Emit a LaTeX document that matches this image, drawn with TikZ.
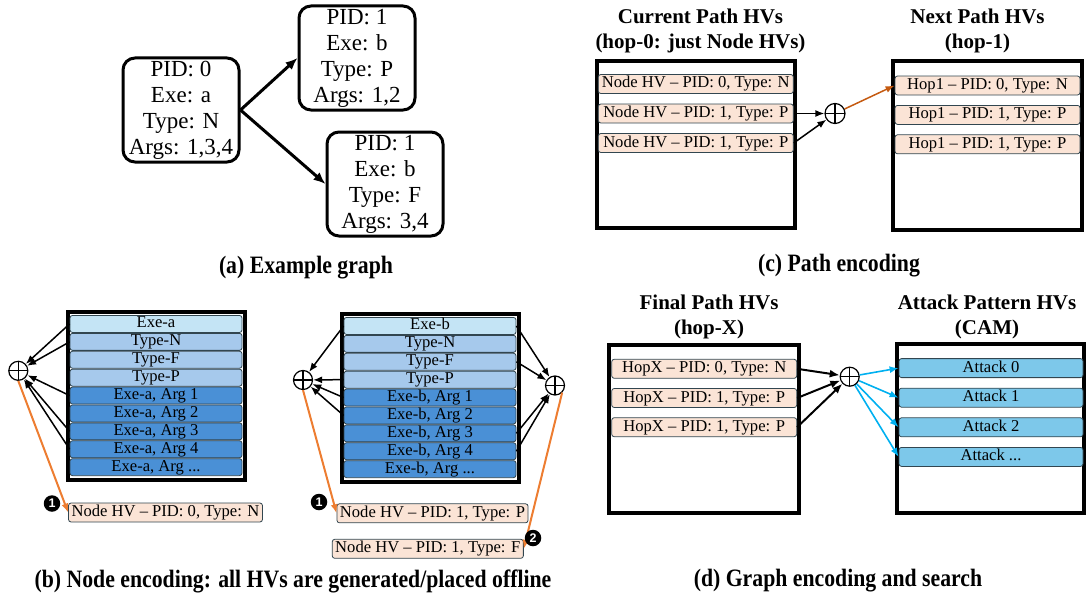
\documentclass[tikz,border=0pt]{standalone}
\usepackage{fontspec}
\setmainfont{Liberation Serif}
\newfontfamily\capfont[FakeStretch=0.87]{Liberation Serif}
\newfontfamily\badgefont{Liberation Sans}
\usetikzlibrary{arrows.meta,positioning,calc}
\definecolor{hdPeach}{RGB}{251,228,214}
\definecolor{hdRowLine}{RGB}{50,70,80}
\definecolor{hdExeBlue}{RGB}{196,228,245}
\definecolor{hdTypeBlue}{RGB}{166,201,236}
\definecolor{hdArgBlue}{RGB}{74,144,214}
\definecolor{hdAttackBlue}{RGB}{125,200,234}
\definecolor{hdOrange}{RGB}{237,125,49}
\definecolor{hdHopBrown}{RGB}{197,90,17}
\definecolor{hdCamBlue}{RGB}{0,176,240}

\begin{document}
\begin{tikzpicture}[
  x=1pt,y=-1pt,
  gnode/.style={
    draw,
    line width=3pt,
    rounded corners=12pt,
    minimum width=116pt,
    minimum height=104pt,
    inner sep=2pt,
    align=center,
    font=\fontsize{23}{26}\selectfont
  },
  bigbox/.style={draw,line width=4pt,inner sep=0pt},
  hvrow/.style={
    draw=hdRowLine,
    line width=0.8pt,
    rounded corners=2.5pt,
    inner sep=0pt,
    minimum height=19pt,
    text height=11.5pt,
    text depth=3.5pt,
    font=\fontsize{16.6}{19}\selectfont
  },
  tabrow/.style={hvrow,minimum width=172pt,minimum height=17pt},
  hvbox/.style={hvrow,fill=hdPeach,inner xsep=3pt},
  sumnode/.style={
    circle,draw,line width=1.2pt,minimum size=19pt,inner sep=0pt,
    path picture={\draw[line width=1.2pt]
      (path picture bounding box.north) -- (path picture bounding box.south)
      (path picture bounding box.west) -- (path picture bounding box.east);}
  },
  badge/.style={circle,fill=black,text=white,minimum size=16.5pt,inner sep=0pt,
    font=\badgefont\bfseries\fontsize{12.5}{12.5}\selectfont},
  title/.style={align=center,font=\bfseries\fontsize{21}{25}\selectfont},
  caption/.style={font=\capfont\bfseries\fontsize{25}{28}\selectfont},
  garrow/.style={-{Latex[length=12pt,width=10pt]},line width=3pt},
  encarrow/.style={-{Latex[length=9pt,width=7pt]},line width=1.5pt},
  orangearrow/.style={-{Latex[length=9pt,width=7pt]},line width=2pt,hdOrange},
  hoparrow/.style={-{Latex[length=9pt,width=7pt]},line width=1.5pt,hdHopBrown},
  findarrow/.style={-{Latex[length=10pt,width=8pt]},line width=2pt},
  camarrow/.style={-{Latex[length=9pt,width=7pt]},line width=1.6pt,hdCamBlue}
]
  \useasboundingbox (0,0) rectangle (1086,602);

  % (a) example graph
  \node[gnode] (pid0) at (181,110) {PID: 0\\Exe: a\\Type: N\\Args: 1,3,4};
  \node[gnode] (pid1p) at (357,58) {PID: 1\\Exe: b\\Type: P\\Args: 1,2};
  \node[gnode] (pid1f) at (385,184) {PID: 1\\Exe: b\\Type: F\\Args: 3,4};
  \draw[garrow] (pid0.east) -- (pid1p.west);
  \draw[garrow] (pid0.east) -- (pid1f.west);
  \node[caption] (capa) at (306,268) {(a) Example graph};

  % (b) node encoding
  \node[bigbox,minimum width=177pt,minimum height=168pt] (tabla) at (156,395.7) {};
  \foreach \c/\t [count=\i] in {hdExeBlue/Exe-a,hdTypeBlue/Type-N,hdTypeBlue/Type-F,hdTypeBlue/Type-P,hdArgBlue/{Exe-a, Arg 1},hdArgBlue/{Exe-a, Arg 2},hdArgBlue/{Exe-a, Arg 3},hdArgBlue/{Exe-a, Arg 4}}
    \node[tabrow,fill=\c] (ea\i) at (156,{306.05+17.9*\i}) {\t};
  \node[tabrow,fill=hdArgBlue] (ea9) at (156,467.15) {Exe-a, Arg ...};

  \node[bigbox,minimum width=177pt,minimum height=168pt] (tablb) at (430,397.7) {};
  \foreach \c/\t [count=\i] in {hdExeBlue/Exe-b,hdTypeBlue/Type-N,hdTypeBlue/Type-F,hdTypeBlue/Type-P,hdArgBlue/{Exe-b, Arg 1},hdArgBlue/{Exe-b, Arg 2},hdArgBlue/{Exe-b, Arg 3},hdArgBlue/{Exe-b, Arg 4}}
    \node[tabrow,fill=\c] (eb\i) at (430,{308.05+17.9*\i}) {\t};
  \node[tabrow,fill=hdArgBlue] (eb9) at (430,469.15) {Exe-b, Arg ...};

  \node[sumnode] (suma) at (18.3,370.8) {};
  \node[sumnode] (sumbl) at (303,380) {};
  \node[sumnode] (sumbr) at (555,385.5) {};
  \foreach \i in {1,2,5,7,8}
    \draw[encarrow] (ea\i.west) -- (suma);
  \foreach \i in {1,4,5,6}
    \draw[encarrow] (eb\i.west) -- (sumbl);
  \foreach \i in {1,3,7,8}
    \draw[encarrow] (eb\i.east) -- (sumbr);

  \node[hvbox] (hva) at (165.5,512.5) {Node HV \textendash{} PID: 0, Type: N};
  \node[hvbox] (hvb) at (432.5,513.3) {Node HV \textendash{} PID: 1, Type: P};
  \node[hvbox] (hvc) at (427.8,548.8) {Node HV \textendash{} PID: 1, Type: F};
  \draw[orangearrow] (suma.south) -- (hva.west);
  \draw[orangearrow] (sumbl.south) -- (hvb.west);
  \draw[orangearrow] (sumbr.south east) -- (hvc.east);
  \node[badge] (onea) at (52,503.5) {1};
  \node[badge] (oneb) at (319,502) {1};
  \node[badge] (twob) at (533,538) {2};
  \node[caption] (capb) at (293,581) {(b) Node encoding: all HVs are generated/placed offline};

  % (c) path encoding
  \node[title] (curtitle) at (700.5,30.8) {Current Path HVs\\(hop-0: just Node HVs)};
  \node[title] (nexttitle) at (977.5,30.8) {Next Path HVs\\(hop-1)};
  \node[bigbox,minimum width=198pt,minimum height=167pt] (curbox) at (696,144.3) {};
  \node[bigbox,minimum width=189pt,minimum height=168pt] (nextbox) at (987.5,145.5) {};
  \foreach \p/\ty [count=\i] in {0/N,1/P,1/P}{
    \node[hvbox,minimum width=195pt] (cur\i) at (695.8,{54.5+29.5*\i}) {Node HV \textendash{} PID: \p, Type: \ty};
    \node[hvbox,minimum width=185pt] (next\i) at (987.5,{56.1+29.4*\i}) {Hop1 \textendash{} PID: \p, Type: \ty};
  }
  \node[sumnode,minimum size=20pt] (sumc) at (835,113.5) {};
  \draw[encarrow] (cur2.east) -- (sumc);
  \draw[encarrow] (cur3.east) -- (sumc);
  \draw[hoparrow] (sumc) -- (next1.west);
  \node[caption] (capc) at (839,266) {(c) Path encoding};

  % (d) graph encoding and search
  \node[title] (fintitle) at (709,316.7) {Final Path HVs\\(hop-X)};
  \node[title] (camtitle) at (987,316.7) {Attack Pattern HVs\\(CAM)};
  \node[bigbox,minimum width=190pt,minimum height=168pt] (finbox) at (704,429.2) {};
  \node[bigbox,minimum width=187pt,minimum height=169pt] (cambox) at (990.5,428) {};
  \foreach \p/\ty [count=\i] in {0/N,1/P,1/P}
    \node[hvbox,minimum width=185pt] (fin\i) at (704.2,{339.6+29.2*\i}) {HopX \textendash{} PID: \p, Type: \ty};
  \foreach \k [count=\i] in {0,1,2}
    \node[hvrow,fill=hdAttackBlue,minimum width=184pt] (att\i) at (991,{338.5+29.6*\i}) {Attack \k};
  \node[hvrow,fill=hdAttackBlue,minimum width=184pt] (att4) at (991,456.9) {Attack ...};
  \node[sumnode] (sumd) at (849.7,376.7) {};
  \foreach \i in {1,2,3}
    \draw[findarrow] (fin\i.east) -- (sumd);
  \foreach \i in {1,2,3,4}
    \draw[camarrow] (sumd) -- (att\i.west);
  \node[caption] (capd) at (838,581) {(d) Graph encoding and search};
\end{tikzpicture}
\end{document}
